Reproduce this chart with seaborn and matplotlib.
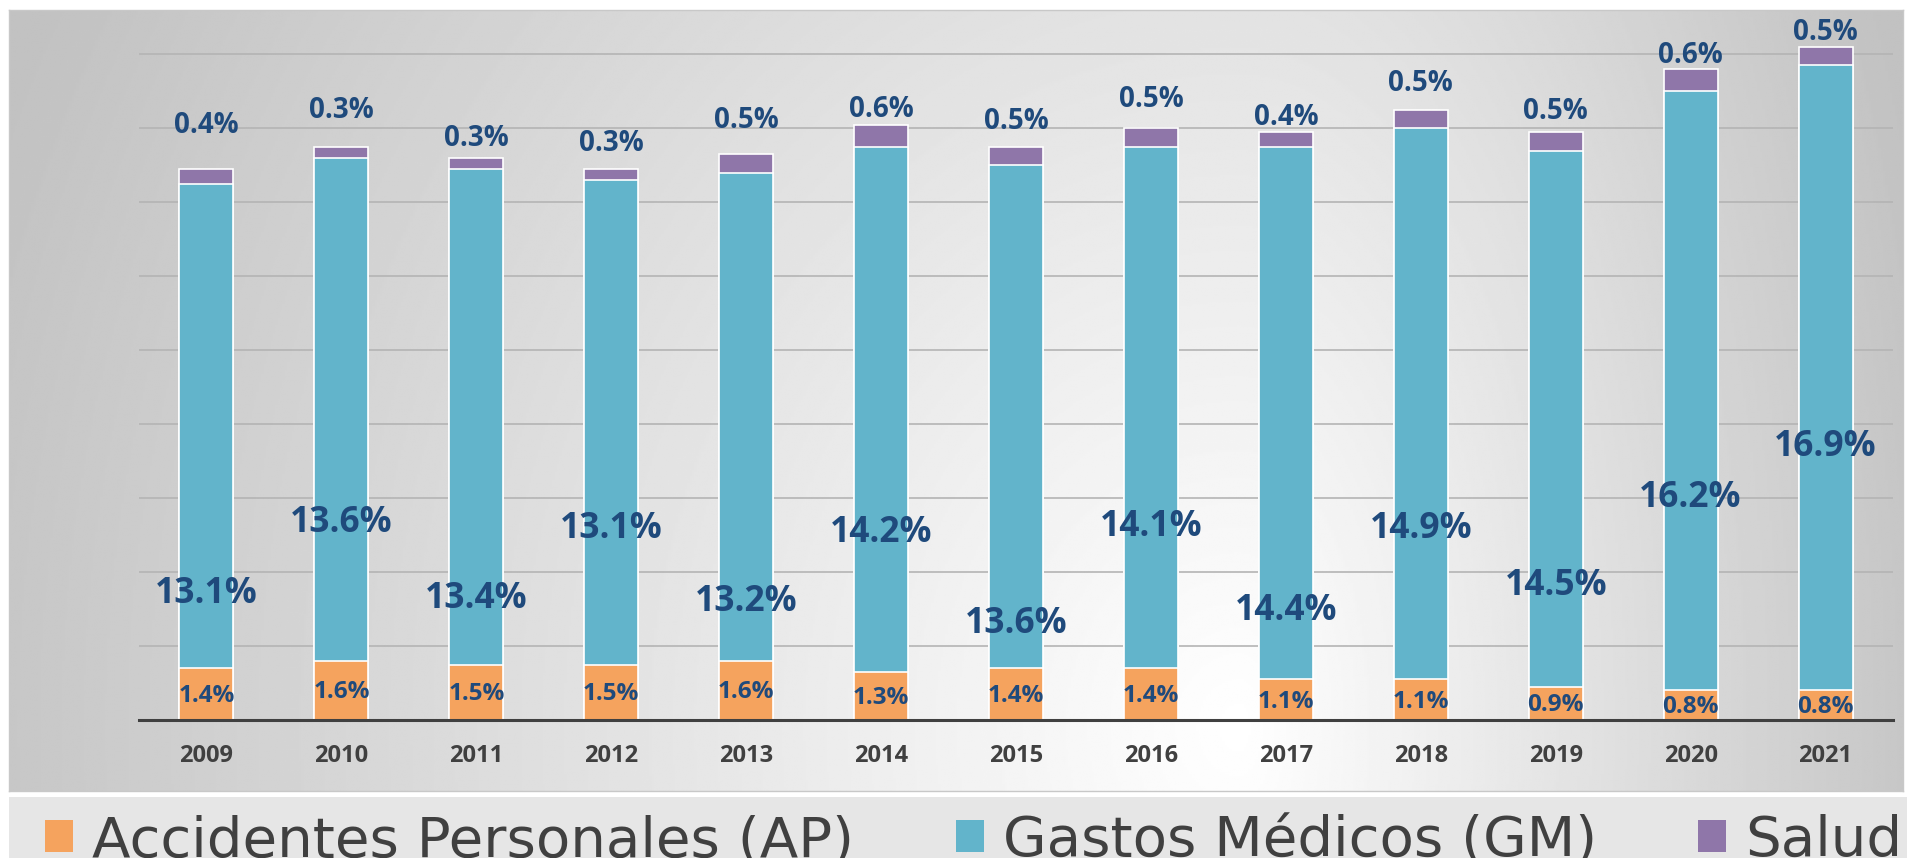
"""
Stacked bars: AP / GM / Salud share by year.
"""

import matplotlib
matplotlib.use('Agg')  # Use non-interactive backend
import matplotlib.pyplot as plt  # noqa: E402
from matplotlib.patches import Patch, Rectangle  # noqa: E402
import seaborn as sns  # noqa: E402
import numpy as np  # noqa: E402
import pandas as pd  # noqa: E402

years = ['2009', '2010', '2011', '2012', '2013', '2014', '2015',
         '2016', '2017', '2018', '2019', '2020', '2021']
ap = [1.4, 1.6, 1.5, 1.5, 1.6, 1.3, 1.4, 1.4, 1.1, 1.1, 0.9, 0.8, 0.8]
gm = [13.1, 13.6, 13.4, 13.1, 13.2, 14.2, 13.6, 14.1, 14.4, 14.9, 14.5,
      16.2, 16.9]
salud = [0.4, 0.3, 0.3, 0.3, 0.5, 0.6, 0.5, 0.5, 0.4, 0.5, 0.5, 0.6, 0.5]
series_names = ['Accidentes Personales (AP)', 'Gastos Médicos (GM)', 'Salud']

# label placement (value units), hand placed like in the original
gm_label_y = [3.42, 5.33, 3.26, 5.16, 3.19, 5.07, 2.60, 5.23, 2.96, 5.16,
              3.62, 5.99, 7.37]
salud_label_y = [16.09, 16.48, 15.72, 15.59, 16.22, 16.51, 16.18, 16.78,
                 16.28, 17.20, 16.45, 17.96, 18.59]

AP_COLOR = '#F5A35E'
GM_COLOR = '#62B4CB'
SALUD_COLOR = '#8F76A9'
LABEL_COLOR = '#1F4A7C'
TEXT_GRAY = '#404040'

df = pd.DataFrame({'year': years, 'ap': ap, 'gm': gm, 'salud': salud})
df['ap_gm'] = df['ap'] + df['gm']
df['total'] = df['ap_gm'] + df['salud']

W, H = 1907, 858
fig = plt.figure(figsize=(W / 100, H / 100), dpi=100)
fig.patch.set_facecolor('white')

# chart area with a soft radial gradient
bg = fig.add_axes([9 / W, (H - 791) / H, (1903 - 9) / W, (791 - 10) / H])
xx, yy = np.meshgrid(np.linspace(0, 1, 800), np.linspace(0, 1, 400))
cx, cy = 0.65, 0.92
u = np.where(xx < cx, (cx - xx) / cx, (xx - cx) / (1 - cx))
v = np.abs(yy - cy) * 0.55
t = np.clip(np.sqrt(u ** 2 + v ** 2), 0, 1.1)
bg.imshow(1 - 0.22 * t, cmap='gray', vmin=0, vmax=1, aspect='auto',
          interpolation='bilinear')
bg.set_xticks([])
bg.set_yticks([])
for s in bg.spines.values():
    s.set_color('#c8c8c8')
    s.set_linewidth(1)

# legend strip
fig.patches.append(Rectangle((9 / W, 0), 1 - 9 / W, (H - 797) / H,
                             transform=fig.transFigure,
                             facecolor='#e6e6e6', edgecolor='none',
                             zorder=0))

ax = fig.add_axes([139 / W, (H - 720) / H, (1893 - 139) / W, 710 / H])
ax.patch.set_alpha(0)

bar_kws = dict(width=0.4, edgecolor='white', linewidth=1.2,
               errorbar=None, ax=ax, zorder=3)
sns.barplot(data=df, x='year', y='total', color=SALUD_COLOR,
            saturation=1, **bar_kws)
sns.barplot(data=df, x='year', y='ap_gm', color=GM_COLOR,
            saturation=1, **bar_kws)
sns.barplot(data=df, x='year', y='ap', color=AP_COLOR,
            saturation=1, **bar_kws)

ax.set_xlim(-0.5, len(years) - 0.5)
ax.set_ylim(0, 19.2)
ax.set_yticks(np.arange(2, 19, 2))
ax.yaxis.grid(True, color='#b4b4b4', linewidth=1.2, zorder=0)
ax.set_axisbelow(True)
ax.tick_params(axis='y', length=0, labelleft=False)
ax.tick_params(axis='x', length=0, pad=17, labelsize=17,
               labelcolor=TEXT_GRAY)
for lbl in ax.get_xticklabels():
    lbl.set_fontweight('bold')
    lbl.set_family(['Open Sans', 'DejaVu Sans'])
ax.set_xlabel('')
ax.set_ylabel('')
for side in ['top', 'right', 'left']:
    ax.spines[side].set_visible(False)
ax.spines['bottom'].set_color(TEXT_GRAY)
ax.spines['bottom'].set_linewidth(2.2)
ax.spines['bottom'].set_zorder(4)

lab_font = ['Open Sans', 'DejaVu Sans']
for i in range(len(years)):
    ax.text(i, ap[i] / 2 - 0.05, f'{ap[i]:.1f}%', ha='center', va='center',
            fontsize=17.5, fontweight='bold', color=LABEL_COLOR,
            family=lab_font, zorder=5)
    ax.text(i, gm_label_y[i], f'{gm[i]:.1f}%', ha='center', va='center',
            fontsize=25.5, fontweight='bold', color=LABEL_COLOR,
            family=lab_font, zorder=5)
    ax.text(i, salud_label_y[i], f'{salud[i]:.1f}%', ha='center',
            va='center', fontsize=20, fontweight='bold', color=LABEL_COLOR,
            family=lab_font, zorder=5)

handles = [Patch(facecolor=c, edgecolor='none')
           for c in [AP_COLOR, GM_COLOR, SALUD_COLOR]]
fig.legend(handles, series_names, loc='lower left',
           bbox_to_anchor=(45 / W, -10 / H), ncol=3, frameon=False,
           prop={'family': 'DejaVu Sans', 'size': 40.5},
           labelcolor=TEXT_GRAY, handlelength=0.5, handleheight=0.5,
           handletextpad=0.34, columnspacing=1.8, borderpad=0,
           borderaxespad=0)

fig.savefig('out.png', dpi=100)
plt.close(fig)
